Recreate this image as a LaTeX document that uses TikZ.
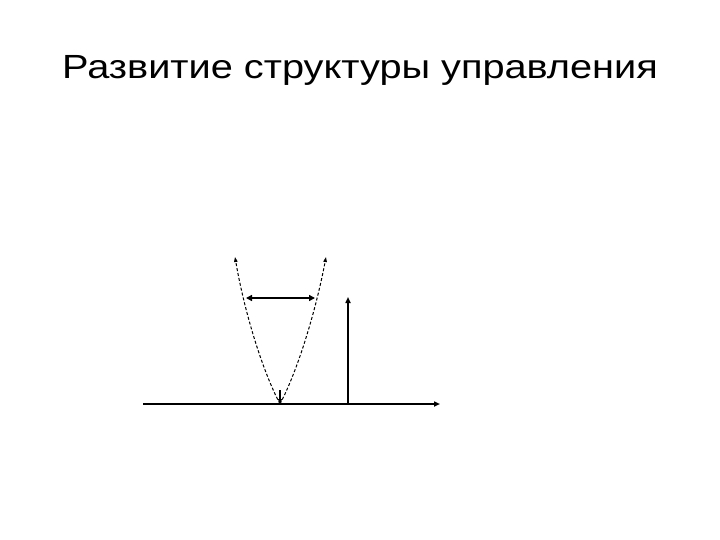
\documentclass[tikz,border=0pt]{standalone}
\usepackage{fontspec}
\setmainfont{Liberation Sans}
\usetikzlibrary{arrows.meta}

\begin{document}
\begin{tikzpicture}[
  x=1pt, y=-1pt,
  axis/.style={line width=1.6pt, -{Triangle[length=6pt,width=5pt]}},
  branch/.style={dashed, dash pattern=on 3pt off 2pt, line width=1pt, -{Triangle[length=5pt,width=3.5pt]}},
  spread/.style={line width=2.6pt, {Triangle[length=6pt,width=6pt]}-{Triangle[length=6pt,width=6pt]}},
  title/.style={font=\fontsize{33.5}{40}\selectfont, anchor=base}
]
  \useasboundingbox (0,0) rectangle (720,540);
  \node[title] (head) at (360,79) {\scalebox{1.186}[1]{Развитие структуры управления}};

  % axis and the level
  \coordinate (axL) at (143,404);
  \coordinate (axR) at (440,404);
  \coordinate (lvB) at (348,404);
  \coordinate (lvT) at (348,297);
  \draw[axis] (axL) -- (axR);
  \draw[axis] (lvB) -- (lvT);

  % the curve
  \coordinate (vx) at (280,404);
  \coordinate (pl) at (235,257);
  \coordinate (pr) at (326,257);
  \draw[branch] (vx) .. controls (262,370) and (244,310) .. (pl);
  \draw[branch] (vx) .. controls (298,370) and (316,310) .. (pr);
  \coordinate (dn) at (280,390);
  \draw[line width=1.2pt, -{Triangle[length=5pt,width=4pt]}] (dn) -- (vx);

  % width
  \coordinate (wl) at (246,298);
  \coordinate (wr) at (315,298);
  \draw[spread] (wl) -- (wr);
\end{tikzpicture}
\end{document}
